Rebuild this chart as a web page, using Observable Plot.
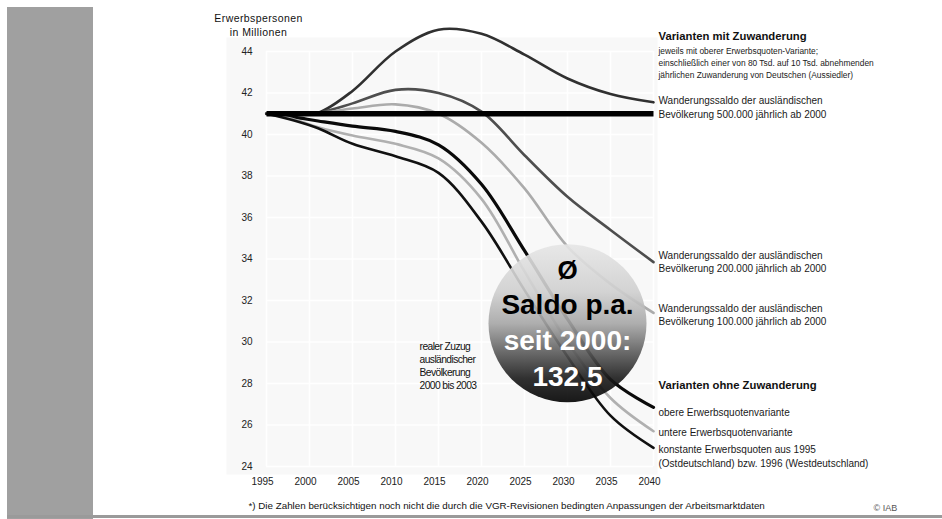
<!DOCTYPE html>
<html><head><meta charset="utf-8">
<script src="https://cdn.jsdelivr.net/npm/d3@7"></script>
<script src="https://cdn.jsdelivr.net/npm/@observablehq/plot@0.6"></script>
<style>
body{margin:0;background:#fff;}
#wrap{position:relative;width:942px;height:519px;overflow:hidden;background:#fff;font-family:"Liberation Sans",Arial,sans-serif;}
#bar{position:absolute;left:7px;top:7px;width:86px;height:512px;background:#a0a0a0;}
#rule{position:absolute;left:7px;top:515px;width:935px;height:3px;background:#9a9a9a;}
#chart{position:absolute;left:0;top:0;}
</style></head>
<body><div id="wrap"><div id="bar"></div><div id="chart"></div><div id="rule"></div></div>
<script>
// ---- data (Erwerbspersonen in Millionen) ----
const years = [1995, 1998, 2001, 2005, 2010, 2015, 2020, 2025, 2030, 2035, 2040];
const saldo500 = [41.0, 41.0, 41.05, 42.1, 44.0, 45.05, 44.85, 43.85, 42.7, 41.95, 41.55];
const saldo200 = [41.0, 41.0, 41.05, 41.5, 42.15, 42.0, 41.1, 39.0, 37.0, 35.4, 33.85];
const saldo100 = [41.0, 41.0, 41.03, 41.25, 41.45, 41.0, 39.6, 37.4, 34.6, 32.8, 31.4];
const obere = [41.0, 40.85, 40.65, 40.4, 40.15, 39.5, 37.6, 34.4, 31.1, 28.2, 26.85];
const untere = [41.0, 40.75, 40.35, 39.95, 39.55, 38.85, 36.9, 33.4, 30.0, 27.3, 25.7];
const konstant = [41.0, 40.7, 40.3, 39.55, 38.95, 38.15, 35.8, 32.5, 29.3, 26.45, 24.9];
const niveauYears = [1995, 2040];
const niveau = [41.0, 41.0];

const xTicks = [1995, 2000, 2005, 2010, 2015, 2020, 2025, 2030, 2035, 2040];
const yTicks = [24, 26, 28, 30, 32, 34, 36, 38, 40, 42, 44];

const seriesNames = ["saldo500", "saldo200", "saldo100", "obere", "untere", "konstant"];
const seriesValues = [saldo500, saldo200, saldo100, obere, untere, konstant];

// annotation texts
const titleLines = "Erwerbspersonen\nin Millionen";
const headMit = "Varianten mit Zuwanderung";
const subMit = ["jeweils mit oberer Erwerbsquoten-Variante;",
  "einschließlich einer von 80 Tsd. auf 10 Tsd. abnehmenden",
  "jährlichen Zuwanderung von Deutschen (Aussiedler)"];
const lbl500 = "Wanderungssaldo der ausländischen\nBevölkerung 500.000 jährlich ab 2000";
const lbl200 = "Wanderungssaldo der ausländischen\nBevölkerung 200.000 jährlich ab 2000";
const lbl100 = "Wanderungssaldo der ausländischen\nBevölkerung 100.000 jährlich ab 2000";
const headOhne = "Varianten ohne Zuwanderung";
const lblObere = "obere Erwerbsquotenvariante";
const lblUntere = "untere Erwerbsquotenvariante";
const lblKonst = "konstante Erwerbsquoten aus 1995\n(Ostdeutschland) bzw. 1996 (Westdeutschland)";
const realText = "realer Zuzug\nausländischer\nBevölkerung\n2000 bis 2003";
const bubbleLines = ["Ø", "Saldo p.a.", "seit 2000:", "132,5"];
const footnote = "*) Die Zahlen berücksichtigen noch nicht die durch die VGR-Revisionen bedingten Anpassungen der Arbeitsmarktdaten";
const credit = "© IAB";

// ---- build tables ----
const rows = [];
seriesNames.forEach((s, i) => years.forEach((yr, j) => rows.push({series: s, year: yr, value: seriesValues[i][j]})));
const niveauRows = niveauYears.map((yr, j) => ({year: yr, value: niveau[j]}));
const style = {
  saldo500: {stroke: "#303030", w: 2.6},
  saldo200: {stroke: "#4e4e4e", w: 2.6},
  saldo100: {stroke: "#ababab", w: 2.6},
  obere: {stroke: "#0a0a0a", w: 3.2},
  untere: {stroke: "#b0b0b0", w: 2.6},
  konstant: {stroke: "#111111", w: 2.6}
};

const F = "Liberation Sans, Arial, sans-serif";

const headRows = [
  {t: headMit, y: 44.72},
  {t: headOhne, y: 27.9}
];
const subRows = subMit.map((t, i) => ({t, y: [44.0, 43.42, 42.84][i]}));
const labelRows = [
  {t: lbl500, y: 41.33},
  {t: lbl200, y: 33.9},
  {t: lbl100, y: 31.35},
  {t: lblObere, y: 26.65},
  {t: lblUntere, y: 25.69},
  {t: lblKonst, y: 24.53}
];

const bubble = {year: 2030.0, value: 30.9};

const marks = [
  Plot.frame({fill: "#f8f8f8", insetLeft: -40, insetRight: -4, insetTop: -14, insetBottom: -8}),
  Plot.gridX(xTicks, {stroke: "#ffffff", strokeOpacity: 1, strokeWidth: 1.5}),
  Plot.gridY(yTicks, {stroke: "#ffffff", strokeOpacity: 1, strokeWidth: 1.5}),
  ...seriesNames.map(s => Plot.line(rows.filter(r => r.series === s), {
    x: "year", y: "value", curve: "catmull-rom", stroke: style[s].stroke, strokeWidth: style[s].w
  })),
  Plot.line(niveauRows, {x: "year", y: "value", stroke: "#000", strokeWidth: 5.5, strokeLinecap: "butt"}),
  Plot.dot([bubble], {x: "year", y: "value", r: 79, fill: "url(#ballGrad)", fillOpacity: 0.9, stroke: "none"}),
  Plot.text([bubbleLines[0]], {x: () => bubble.year, y: () => bubble.value, text: d => d, dy: -53, fontSize: 26, fontWeight: "bold", fill: "#000", fontFamily: F}),
  Plot.text([bubbleLines[1]], {x: () => bubble.year, y: () => bubble.value, text: d => d, dy: -18, fontSize: 28, fontWeight: "bold", fill: "#000", fontFamily: F}),
  Plot.text([bubbleLines[2]], {x: () => bubble.year, y: () => bubble.value, text: d => d, dy: 18, fontSize: 28, fontWeight: "bold", fill: "#fff", fontFamily: F}),
  Plot.text([bubbleLines[3]], {x: () => bubble.year, y: () => bubble.value, text: d => d, dy: 54, fontSize: 28, fontWeight: "bold", fill: "#fff", fontFamily: F}),
  Plot.text([realText], {x: () => 2012.8, y: () => 28.87, text: d => d, textAnchor: "start", lineHeight: 1.28, fontSize: 10.3, fill: "#111", fontFamily: F, className: "real"}),
  Plot.text(headRows, {x: () => 2040, y: "y", text: "t", dx: 5, textAnchor: "start", fontSize: 11.3, fontWeight: "bold", fill: "#111", fontFamily: F}),
  Plot.text(subRows, {x: () => 2040, y: "y", text: "t", dx: 5, textAnchor: "start", fontSize: 8.4, fill: "#1a1a1a", fontFamily: F}),
  Plot.text(labelRows, {x: () => 2040, y: "y", text: "t", dx: 5, textAnchor: "start", lineHeight: 1.35, fontSize: 10, fill: "#1a1a1a", fontFamily: F}),
  Plot.text([titleLines], {x: () => 1995, y: () => 44, text: d => d, dx: -8, dy: -27, lineHeight: 1.3, fontSize: 10.5, fill: "#111", fontFamily: F, className: "ttl"}),
  Plot.text([footnote], {x: () => 1995, y: () => 24, text: d => d, dx: -18, dy: 39, textAnchor: "start", fontSize: 9.8, fill: "#111", fontFamily: F}),
  Plot.text([credit], {x: () => 2040, y: () => 24, text: d => d, dx: 220, dy: 42, textAnchor: "start", fontSize: 9, fill: "#555", fontFamily: F}),
  Plot.axisX(xTicks, {tickSize: 0, tickPadding: 11, dx: -4, tickFormat: d => String(d), fontSize: 10, fill: "#222", label: null}),
  Plot.axisY(yTicks, {tickSize: 0, tickPadding: 14, fontSize: 10, fill: "#222", label: null})
];

const svg = Plot.plot({
  width: 942, height: 519,
  marginLeft: 266, marginRight: 289, marginTop: 51, marginBottom: 53,
  x: {domain: [1995, 2040]},
  y: {domain: [24, 44]},
  style: {fontFamily: F, background: "transparent", overflow: "visible"},
  marks
});

const defs = d3.select(svg).insert("defs", ":first-child");
const g = defs.append("linearGradient").attr("id", "ballGrad").attr("x1", 0).attr("y1", 0).attr("x2", 0).attr("y2", 1);
[[0, "#e6e6e6"], [0.3, "#cfcfcf"], [0.5, "#a6a6a6"], [0.68, "#5c5c5c"], [0.85, "#1a1a1a"], [1, "#000"]]
  .forEach(([o, c]) => g.append("stop").attr("offset", o).attr("stop-color", c));
d3.select(svg).selectAll(".real text").style("letter-spacing", "-0.6px");
d3.select(svg).selectAll(".ttl text").style("letter-spacing", "0.4px");
document.getElementById("chart").appendChild(svg);
</script>
</body></html>
